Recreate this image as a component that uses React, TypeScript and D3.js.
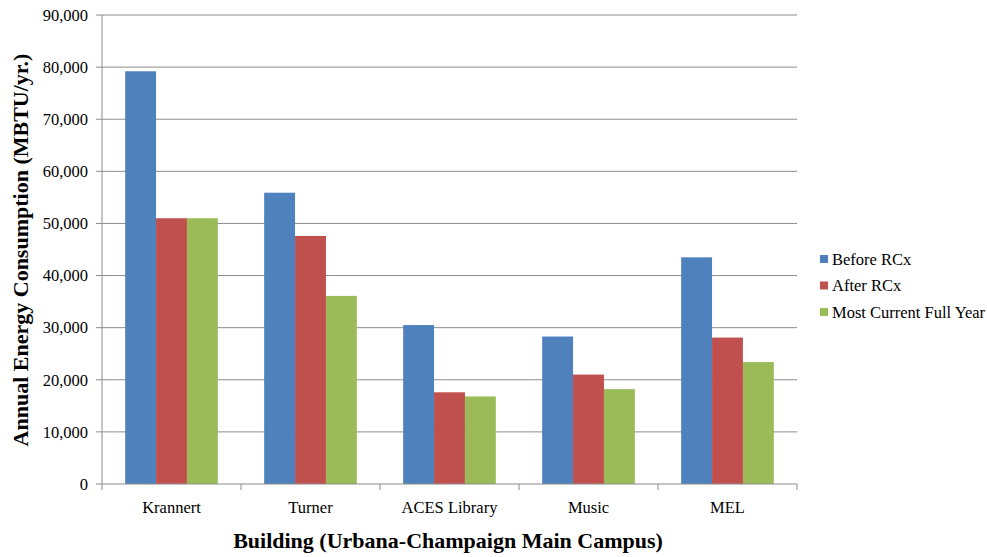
import React from "react";
import * as d3 from "d3";

const categories = ["Krannert", "Turner", "ACES Library", "Music", "MEL"];
const seriesNames = ["Before RCx", "After RCx", "Most Current Full Year"];
const beforeRCx = [79200, 55900, 30500, 28300, 43500];
const afterRCx = [51000, 47600, 17600, 21000, 28100];
const mostCurrent = [51000, 36100, 16800, 18200, 23400];
const colors = ["#4F81BD", "#C0504D", "#9BBB59"];
const yTicks = [0, 10000, 20000, 30000, 40000, 50000, 60000, 70000, 80000, 90000];

export default function App() {
  const W = 987, H = 557;
  const left = 102, right = 797, top = 15, bottom = 484;
  const series = [beforeRCx, afterRCx, mostCurrent];
  const x = d3.scaleBand<string>().domain(categories).range([left, right]).paddingInner(0).paddingOuter(0);
  const inner = d3.scaleBand<number>().domain([0, 1, 2]).range([0, x.bandwidth()]).paddingOuter(0.75).paddingInner(0);
  const y = d3.scaleLinear().domain([0, 90000]).range([bottom, top]);
  const fmt = d3.format(",");
  const font = "'Liberation Serif', 'Times New Roman', serif";
  const grid = "#8c8c8c";
  return (
    <svg width={W} height={H} style={{ position: "absolute", left: 0, top: 0 }} fontFamily={font}>
      <rect width={W} height={H} fill="#fff" />
      {yTicks.map((t) => (
        <g key={t}>
          {t > 0 && <line x1={left} x2={right} y1={y(t)} y2={y(t)} stroke={grid} strokeWidth={1} />}
          <line x1={left - 6} x2={left} y1={y(t)} y2={y(t)} stroke={grid} />
          <text x={88} y={y(t)} dy="0.35em" textAnchor="end" fontSize={16.5} fill="#000">{fmt(t)}</text>
        </g>
      ))}
      {series.map((vals, si) =>
        vals.map((v, ci) => (
          <rect key={`${si}-${ci}`} x={(x(categories[ci]) as number) + (inner(si) as number)} y={y(v)}
            width={inner.bandwidth()} height={bottom - y(v)} fill={colors[si]} />
        ))
      )}
      <line x1={left} x2={left} y1={top} y2={bottom} stroke={grid} />
      <line x1={left} x2={right} y1={bottom} y2={bottom} stroke={grid} />
      {[...categories.map((c) => x(c) as number), right].map((px, i) => (
        <line key={i} x1={px} x2={px} y1={bottom} y2={bottom + 6} stroke={grid} />
      ))}
      {categories.map((c) => (
        <text key={c} x={(x(c) as number) + x.bandwidth() / 2} y={513} textAnchor="middle" fontSize={16.5} fill="#000">{c}</text>
      ))}
      <text x={448} y={548} textAnchor="middle" fontSize={22} fontWeight="bold" fill="#000">Building (Urbana-Champaign Main Campus)</text>
      <text transform={`translate(28,250) rotate(-90)`} textAnchor="middle" fontSize={22} fontWeight="bold" fill="#000">Annual Energy Consumption (MBTU/yr.)</text>
      {seriesNames.map((s, i) => (
        <g key={s} transform={`translate(820,${259 + i * 26.5})`}>
          <rect x={0} y={-4} width={8} height={8} fill={colors[i]} />
          <text x={12} y={0} dy="0.35em" fontSize={16.5} fill="#000">{s}</text>
        </g>
      ))}
    </svg>
  );
}
